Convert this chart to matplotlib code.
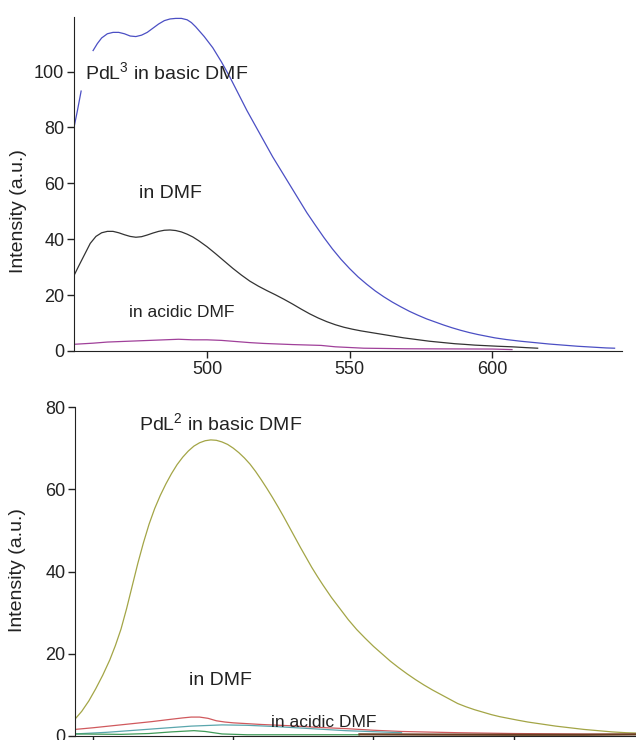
import matplotlib
matplotlib.use('Agg')
import matplotlib.pyplot as plt
import numpy as np

plt.rcParams['font.family'] = ['Liberation Sans', 'DejaVu Sans']
plt.rcParams['mathtext.fontset'] = 'custom'
plt.rcParams['mathtext.rm'] = 'Liberation Sans'
plt.rcParams['mathtext.it'] = 'Liberation Sans:italic'

# ===== TOP PANEL: PdL3 =====
top_basic_x = [453.3, 454.5, 455.8, 457.5, 460, 461.5, 463, 465, 467, 469, 471, 473,
               475, 477, 479, 481, 483, 485, 487, 489, 491, 493, 494.5, 496, 499,
               502, 505, 508, 511, 514, 517, 520, 523, 526, 529, 532, 535, 538,
               541, 544, 547, 550, 553, 556, 559, 562, 565, 568, 571, 574, 577,
               580, 583, 586, 589, 592, 595, 598, 601, 605, 610, 615, 620, 625,
               630, 635, 640, 643]
top_basic_y = [80, 86, 93, np.nan, 107.5, 110, 112, 113.5, 114, 114, 113.5, 112.7,
               112.5, 113, 114, 115.5, 117, 118.2, 118.8, 119, 119, 118.5, 117.5, 116, 112.5,
               108.5, 103.5, 98, 92, 86, 80.5, 75, 69.5, 64.5, 59.5, 54.5, 49.5, 45,
               40.6, 36.5, 32.8, 29.5, 26.5, 23.9, 21.5, 19.4, 17.5, 15.8, 14.2, 12.8, 11.5,
               10.4, 9.3, 8.3, 7.4, 6.6, 5.9, 5.3, 4.7, 4.1, 3.5, 3.0, 2.5, 2.1,
               1.7, 1.4, 1.1, 1.0]

top_dmf_x = [453.3, 455, 457, 459, 461, 463, 465, 467, 469, 471, 473, 475, 477,
             479, 481, 483, 485, 487, 489, 491, 493, 495, 497, 500, 503, 506, 509,
             512, 515, 518, 521, 524, 527, 530, 533, 536, 539, 542, 545, 548, 551,
             554, 557, 560, 563, 566, 569, 572, 575, 578, 581, 584, 587, 590, 594,
             598, 602, 607, 612, 616]
top_dmf_y = [27, 30.5, 34.5, 38.5, 41, 42.3, 42.8, 42.8, 42.3, 41.6, 41, 40.7, 40.9,
             41.5, 42.2, 42.8, 43.2, 43.3, 43.1, 42.6, 41.8, 40.8, 39.5, 37.3, 34.8, 32.2, 29.6,
             27.2, 25, 23.2, 21.6, 20.1, 18.5, 16.8, 15.0, 13.3, 11.8, 10.5, 9.4, 8.5, 7.8,
             7.2, 6.7, 6.2, 5.7, 5.2, 4.7, 4.3, 3.9, 3.5, 3.2, 2.9, 2.6, 2.4, 2.1,
             1.9, 1.7, 1.5, 1.2, 1.0]

top_acid_x = [453.3, 460, 465, 475, 485, 490, 495, 500, 505, 510, 515, 520, 530,
              540, 545, 555, 570, 600, 607]
top_acid_y = [2.4, 2.8, 3.2, 3.6, 4.0, 4.2, 4.0, 4.0, 3.8, 3.4, 3.0, 2.7, 2.3,
              2.0, 1.5, 1.0, 0.8, 0.7, 0.5]

# ===== BOTTOM PANEL: PdL2 =====
bot_basic_x = [443.6, 446, 448.5, 451, 453.5, 456, 458, 460, 462, 464, 466, 468,
               470, 472, 474, 476, 478, 480, 482, 484, 486, 488, 490, 492, 494,
               496, 498, 500, 502, 504, 506, 508, 510, 512, 514, 516, 518, 520,
               522, 524, 526, 528, 530, 532, 535, 538, 541, 544, 547, 550, 553,
               556, 559, 562, 565, 568, 571, 574, 577, 580, 583, 586, 589, 592,
               595, 598, 601, 605, 610, 615, 620, 625, 630, 635, 640, 644.6]
bot_basic_y = [4.1, 6.0, 8.5, 11.5, 14.8, 18.5, 22, 26, 31, 36.5, 42, 47,
               51.5, 55.3, 58.5, 61.3, 63.8, 66, 67.8, 69.3, 70.5, 71.3, 71.8, 72, 71.9,
               71.5, 70.9, 70, 68.9, 67.6, 66.1, 64.3, 62.3, 60.2, 58, 55.7, 53.3, 50.8,
               48.3, 45.8, 43.4, 41, 38.8, 36.7, 33.7, 31, 28.3, 25.9, 23.8, 21.8, 20,
               18.2, 16.6, 15.1, 13.7, 12.4, 11.2, 10.1, 9.0, 7.9, 7.1, 6.4, 5.8, 5.2,
               4.7, 4.3, 3.9, 3.4, 2.9, 2.4, 2.0, 1.6, 1.3, 1.0, 0.8, 0.7]

bot_dmf_x = [443.6, 450, 457, 464, 471, 477, 482, 485, 488, 491, 494, 497, 500,
             505, 510, 520, 530, 540, 550, 560, 580, 600, 620, 644]
bot_dmf_y = [1.6, 2.0, 2.5, 3.0, 3.5, 4.0, 4.4, 4.6, 4.6, 4.3, 3.7, 3.4, 3.2,
             3.0, 2.8, 2.5, 2.1, 1.8, 1.4, 1.1, 0.8, 0.6, 0.5, 0.4]

bot_cyan_x = [443.6, 455, 465, 475, 485, 496, 505, 515, 525, 540, 560]
bot_cyan_y = [0.5, 0.9, 1.4, 1.9, 2.4, 2.7, 2.6, 2.3, 1.9, 1.3, 0.8]

bot_green_x = [443.6, 460, 470, 478, 486, 490, 496, 505, 520, 545]
bot_green_y = [0.5, 0.4, 0.6, 1.0, 1.3, 1.1, 0.5, 0.3, 0.3, 0.3]

bot_brown_x = [545, 570, 600, 625, 644.6]
bot_brown_y = [0.4, 0.35, 0.3, 0.3, 0.4]

fig = plt.figure(figsize=(6.36, 7.4), dpi=100)
ax1 = fig.add_axes([74/636, 1 - 351/740, (622 - 74)/636, (351 - 17)/740])
ax2 = fig.add_axes([75/636, 1 - 736/740, (640 - 75)/636, (736 - 407)/740])

lw = 0.9
ax1.plot(top_basic_x, top_basic_y, color='#4b4fc4', lw=lw)
ax1.plot(top_dmf_x, top_dmf_y, color='#333333', lw=lw)
ax1.plot(top_acid_x, top_acid_y, color='#a0409a', lw=lw)

ax2.plot(bot_basic_x, bot_basic_y, color='#a3a546', lw=lw)
ax2.plot(bot_dmf_x, bot_dmf_y, color='#d0595d', lw=lw)
ax2.plot(bot_cyan_x, bot_cyan_y, color='#5aa6ad', lw=lw)
ax2.plot(bot_green_x, bot_green_y, color='#3f9a58', lw=lw)
ax2.plot(bot_brown_x, bot_brown_y, color='#6b3f22', lw=1.6)

ax1.set_xlim(453.3, 645.6)
ax1.set_ylim(0, 119.5)
ax1.set_xticks([500, 550, 600])
ax1.set_yticks([0, 20, 40, 60, 80, 100])

ax2.set_xlim(443.6, 645)
ax2.set_ylim(0, 80)
ax2.set_xticks([450, 500, 550, 600])
ax2.set_yticks([0, 20, 40, 60, 80])
ax2.tick_params(axis='x', labelbottom=False)

for ax in (ax1, ax2):
    ax.spines['top'].set_visible(False)
    ax.spines['right'].set_visible(False)
    ax.spines['left'].set_color('#222222')
    ax.spines['bottom'].set_color('#222222')
    ax.tick_params(direction='out', length=5, width=1, labelsize=13,
                   colors='#222222', pad=2)
    ax.set_ylabel('Intensity (a.u.)', fontsize=14, color='#222222')

ax1.yaxis.set_label_coords(-0.086, 0.42)
ax2.yaxis.set_label_coords(-0.086, 0.505)

ax1.text(457.2, 99.6, 'PdL$^{3}$ in basic DMF', fontsize=14, ha='left',
         va='center', color='#222222')
ax1.text(487, 56.4, 'in DMF', fontsize=14, ha='center', va='center',
         color='#222222')
ax1.text(491, 13.6, 'in acidic DMF', fontsize=12.5, ha='center', va='center',
         color='#222222')

ax2.text(466.5, 76.1, 'PdL$^{2}$ in basic DMF', fontsize=14, ha='left',
         va='center', color='#222222')
ax2.text(495.6, 13.4, 'in DMF', fontsize=14, ha='center', va='center',
         color='#222222')
ax2.text(513.5, 3.2, 'in acidic DMF', fontsize=12.5, ha='left', va='center',
         color='#222222')

fig.savefig('out.png', dpi=100, facecolor='white')
